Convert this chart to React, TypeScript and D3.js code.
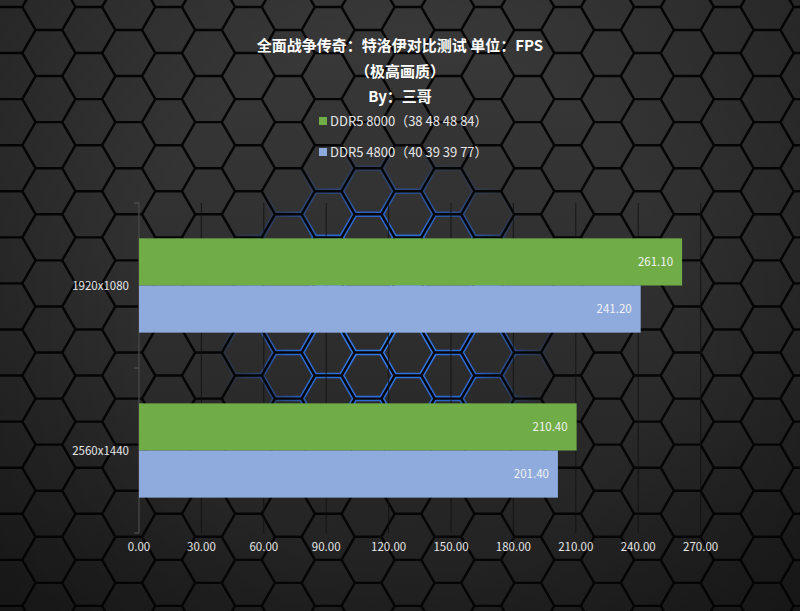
import React from "react";
import * as d3 from "d3";

const categories = ["1920x1080", "2560x1440"];
const seriesNames = ["DDR5 8000（38 48 48 84）", "DDR5 4800（40 39 39 77）"];
const seriesKeys = ["s8000", "s4800"];
const values8000 = [261.1, 210.4];
const values4800 = [241.2, 201.4];
const xTicks = [0, 30, 60, 90, 120, 150, 180, 210, 240, 270];
const colors = ["#70ad47", "#8faadc"];
const titleLines = ["全面战争传奇：特洛伊对比测试 单位：FPS", "（极高画质）", "By：三哥"];

const W = 800;
const H = 611;
const FONT = "'Noto Sans CJK SC', 'Noto Sans', sans-serif";

function hexPath(cx: number, cy: number, r: number) {
  const pts: [number, number][] = [];
  for (let k = 0; k < 6; k++) {
    const a = (Math.PI / 3) * k;
    pts.push([cx + r * Math.cos(a), cy + r * Math.sin(a)]);
  }
  return "M" + pts.map((p) => p.join(",")).join("L") + "Z";
}

export default function App() {
  const x = d3.scaleLinear().domain([0, 270]).range([139, 700.6]);
  const y = d3.scaleBand().domain(categories).range([203, 533]).padding(0);
  const ys = d3
    .scaleBand()
    .domain(seriesKeys)
    .range([0, y.bandwidth()])
    .paddingInner(0)
    .paddingOuter(0.75);
  const vals = [values8000, values4800];

  const r = 26.6;
  const colStep = 1.5 * r;
  const rowStep = Math.sqrt(3) * r;
  const hexes: { cx: number; cy: number }[] = [];
  for (let i = -1; i < 24; i++) {
    for (let j = -1; j < 16; j++) {
      const cx = 9 + i * colStep;
      const cy = 30 + j * rowStep + (i % 2 !== 0 ? rowStep / 2 : 0);
      hexes.push({ cx, cy });
    }
  }
  const hexD = hexes.map((h) => hexPath(h.cx, h.cy, r)).join(" ");

  return (
    <svg width={W} height={H} style={{ display: "block", position: "absolute", left: 0, top: 0 }}>
      <defs>
        <linearGradient id="bgFill" x1="0" y1="0" x2="0" y2="1">
          <stop offset="0" stopColor="#3b3b3c" />
          <stop offset="0.5" stopColor="#2c2c2d" />
          <stop offset="1" stopColor="#19191a" />
        </linearGradient>
        <radialGradient id="glow" cx="385" cy="320" r="175" gradientUnits="userSpaceOnUse">
          <stop offset="0" stopColor="#3a86ff" stopOpacity="1" />
          <stop offset="0.6" stopColor="#2a6ee8" stopOpacity="0.85" />
          <stop offset="1" stopColor="#1d4fb0" stopOpacity="0" />
        </radialGradient>
        <radialGradient id="vign" cx="400" cy="305" r="520" gradientUnits="userSpaceOnUse">
          <stop offset="0.5" stopColor="#000" stopOpacity="0" />
          <stop offset="1" stopColor="#000" stopOpacity="0.35" />
        </radialGradient>
      </defs>
      <rect x={0} y={0} width={W} height={H} fill="#0a0a0a" />
      <path d={hexD} fill="url(#bgFill)" stroke="url(#glow)" strokeWidth={5.5} />
      <path d={hexD} fill="none" stroke="#050505" strokeWidth={2.4} />
      <rect x={0} y={0} width={W} height={H} fill="url(#vign)" />

      {/* gridlines */}
      {xTicks.map((t) => (
        <line key={"g" + t} x1={x(t)} x2={x(t)} y1={203} y2={533} stroke="#111" strokeWidth={1} opacity={0.8} />
      ))}
      {/* left axis */}
      <line x1={139} x2={139} y1={203} y2={533} stroke="#5a5a5a" strokeWidth={1} />
      {[203, 368, 533].map((v) => (
        <line key={"t" + v} x1={134} x2={139} y1={v} y2={v} stroke="#5a5a5a" strokeWidth={1} />
      ))}

      {/* bars */}
      {categories.map((c, ci) =>
        seriesKeys.map((k, si) => {
          const v = vals[si][ci];
          const by = (y(c) as number) + (ys(k) as number);
          return (
            <g key={c + k}>
              <rect x={x(0)} y={by} width={x(v) - x(0)} height={ys.bandwidth()} fill={colors[si]} />
              <text
                x={x(v) - 9}
                y={by + ys.bandwidth() / 2 + 4}
                textAnchor="end"
                fontSize={11.5}
                fill="#f2f2f2"
                fontFamily={FONT}
              >
                {v.toFixed(2)}
              </text>
            </g>
          );
        })
      )}

      {/* category labels */}
      {categories.map((c) => (
        <text
          key={c}
          x={129}
          y={(y(c) as number) + y.bandwidth() / 2 + 4}
          textAnchor="end"
          fontSize={11.5}
          fill="#e6e6e6"
          fontFamily={FONT}
        >
          {c}
        </text>
      ))}

      {/* x tick labels */}
      {xTicks.map((t) => (
        <text key={"l" + t} x={x(t)} y={551} textAnchor="middle" fontSize={11.5} fill="#e6e6e6" fontFamily={FONT}>
          {d3.format(".2f")(t)}
        </text>
      ))}

      {/* title */}
      {titleLines.map((s, i) => (
        <text
          key={"title" + i}
          x={400}
          y={51 + i * 25.5}
          textAnchor="middle"
          fontSize={15}
          fontWeight="bold"
          fill="#ffffff"
          fontFamily={FONT}
        >
          {s}
        </text>
      ))}

      {/* legend */}
      {seriesNames.map((s, i) => (
        <g key={"leg" + i}>
          <rect x={319} y={117 + i * 31} width={8} height={8} fill={colors[i]} />
          <text x={330} y={126 + i * 31} fontSize={13} fill="#e6e6e6" fontFamily={FONT}>
            {s}
          </text>
        </g>
      ))}
    </svg>
  );
}
